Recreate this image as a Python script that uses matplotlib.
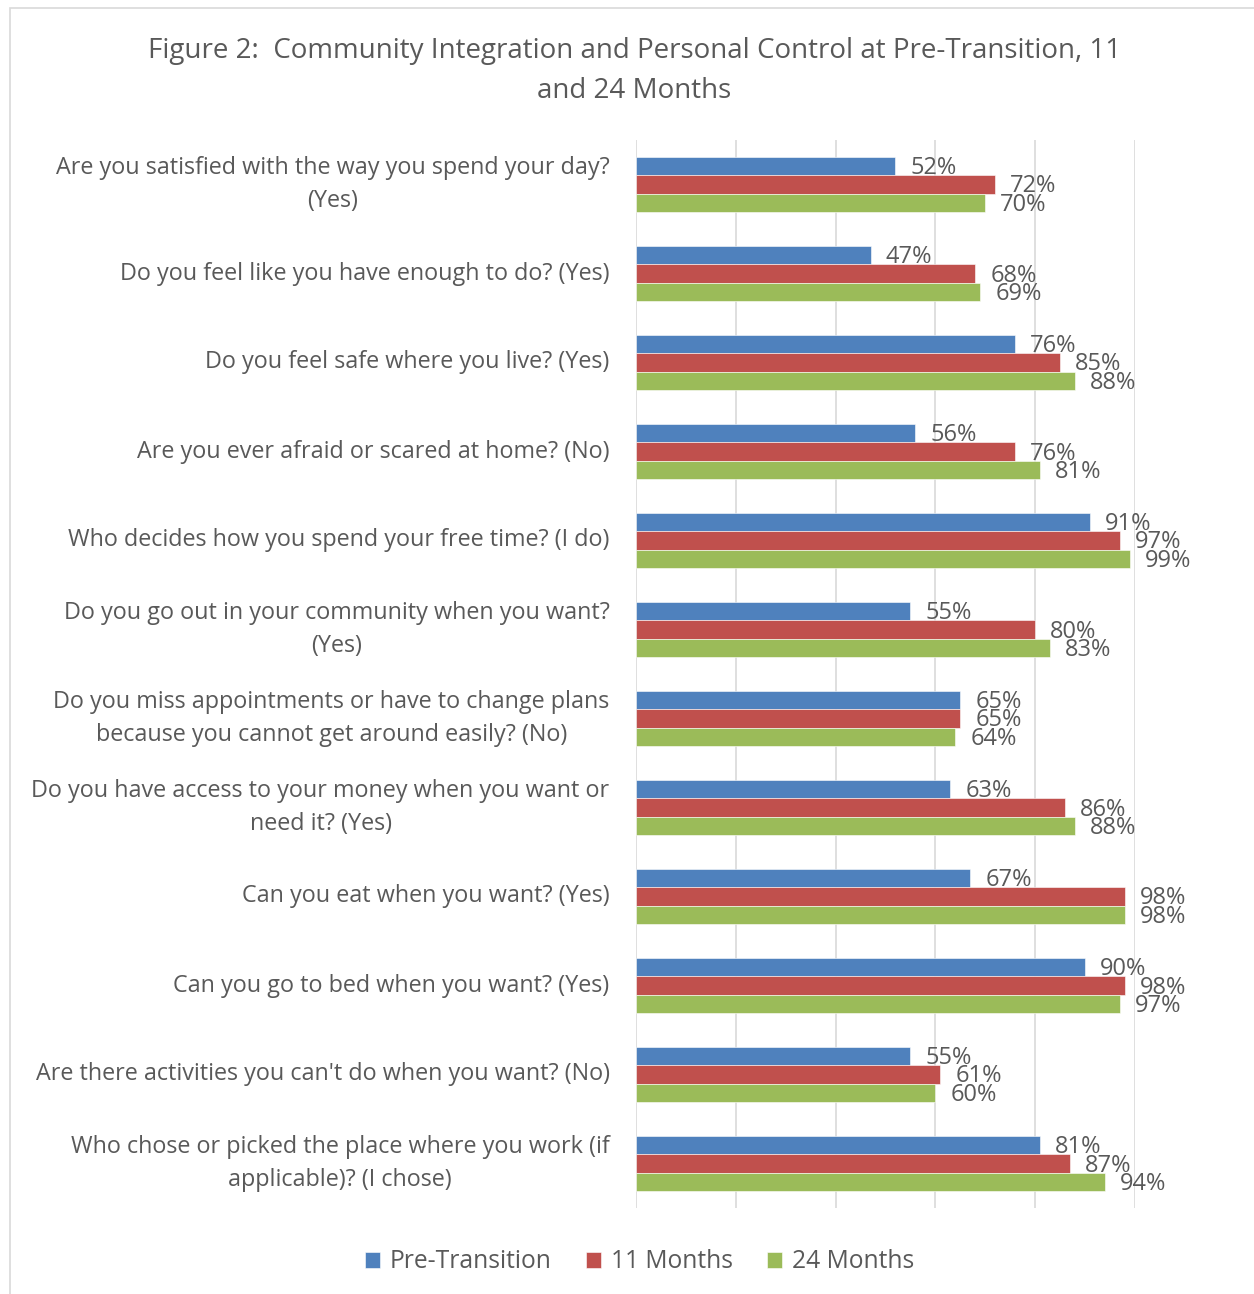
import numpy as np
import matplotlib.pyplot as plt
from matplotlib.patches import Rectangle

plt.rcParams['font.family'] = ['Open Sans', 'DejaVu Sans']

#######################################################
Title = 'Figure 2:  Community Integration and Personal Control at Pre-Transition, 11\nand 24 Months'

Questions = [
    'Are you satisfied with the way you spend your day?\n(Yes)',
    'Do you feel like you have enough to do? (Yes)',
    'Do you feel safe where you live? (Yes)',
    'Are you ever afraid or scared at home? (No)',
    'Who decides how you spend your free time? (I do)',
    'Do you go out in your community when you want?\n(Yes)',
    'Do you miss appointments or have to change plans\nbecause you cannot get around easily? (No)',
    'Do you have access to your money when you want or\nneed it? (Yes)',
    'Can you eat when you want? (Yes)',
    'Can you go to bed when you want? (Yes)',
    "Are there activities you can't do when you want? (No)",
    'Who chose or picked the place where you work (if\napplicable)? (I chose)',
]

Pre_Transition = [52, 47, 76, 56, 91, 55, 65, 63, 67, 90, 55, 81]
Months_11      = [72, 68, 85, 76, 97, 80, 65, 86, 98, 98, 61, 87]
Months_24      = [70, 69, 88, 81, 99, 83, 64, 88, 98, 97, 60, 94]

Series_Names  = ['Pre-Transition', '11 Months', '24 Months']
Series_Colors = ['#4F81BD', '#C0504D', '#9BBB59']
Text_Color = '#595959'
#######################################################

W, H = 1254, 1294
fig = plt.figure(figsize=(W / 100, H / 100), dpi=100)

# light frame round the chart
fig.add_artist(Rectangle((10 / W, -0.01), 1.0, 1 - 8 / H + 0.01, transform=fig.transFigure,
                         fill=False, edgecolor='#D9D9D9', linewidth=1.2))

ax = fig.add_axes([636 / W, 1 - 1208 / H, 499 / W, (1208 - 140) / H])

y = np.arange(len(Questions))
bar_h = 0.208
all_series = [Pre_Transition, Months_11, Months_24]
for i, (vals, name, col) in enumerate(zip(all_series, Series_Names, Series_Colors)):
    pos = y + (i - 1) * bar_h
    ax.barh(pos, np.array(vals) / 100, height=bar_h, color=col, label=name,
            edgecolor='white', linewidth=0.4)
    for p, v in zip(pos, vals):
        ax.annotate(f'{v}%', (v / 100, p), xytext=(15, -2), textcoords='offset pixels',
                    va='center', ha='left', fontsize=17, color=Text_Color)

ax.set_xlim(0, 1)
ax.set_ylim(11.5, -0.5)
ax.set_xticks(np.arange(0, 1.01, 0.2))
ax.set_xticklabels([])
ax.tick_params(axis='x', length=0)
ax.grid(axis='x', color='#D9D9D9', linewidth=1.2)
ax.set_axisbelow(True)
ax.set_yticks(y)
ax.set_yticklabels(Questions, fontsize=16.8, color=Text_Color, linespacing=1.5,
                   ha='right', va='center', multialignment='center')
ax.tick_params(axis='y', length=0, pad=19)
for s in ax.spines.values():
    s.set_visible(False)

fig.text(0.506, 1 - 71 / H, Title, ha='center', va='center', fontsize=20,
         color=Text_Color, linespacing=1.58)

fig.legend(loc='center', bbox_to_anchor=(0.51, 1 - 1262 / H), ncol=3, frameon=False,
           fontsize=17.7, labelcolor=Text_Color, handlelength=0.6, handleheight=0.6,
           handletextpad=0.4, columnspacing=1.4)

fig.savefig('out.png', dpi=100)
